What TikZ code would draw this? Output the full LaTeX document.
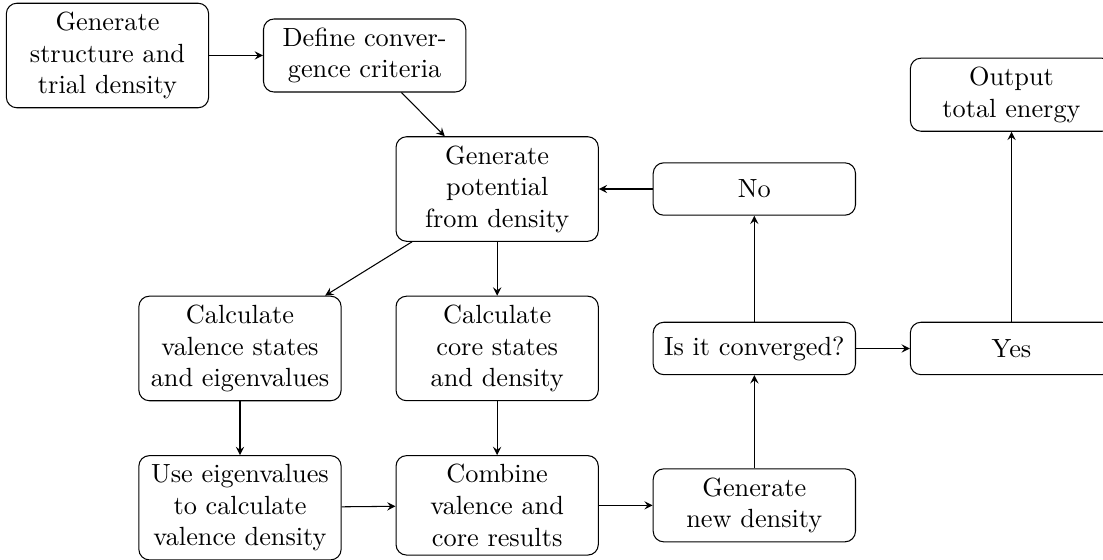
\documentclass[tikz,border=0pt]{standalone}
\usepackage{amsmath}
\usetikzlibrary{shapes,arrows,positioning}

\begin{document}
\begin{tikzpicture}[
    node distance=0.72cm,
    auto,
    block/.style={rectangle, rounded corners, draw=black, text width=2.47cm, text centered, minimum height=0.7cm},
    arrow/.style={->, >=stealth}
]
\useasboundingbox (-1.437,0.742) rectangle (13.31,-6.745);
% Blocks
\node[block] (gen) {Generate\\structure and\\trial density};
\node[block, right=of gen] (crit) {Define conver-\\gence criteria};
\node[block] (pot) at (5.21,-1.785) {Generate\\potential\\from density};
\node[block, right=of pot] (no) {No};
\node[block, below=of pot] (core) {Calculate\\core states\\and density};
\node[block, left=of core] (val) {Calculate\\valence states\\and eigenvalues};
\node[block, below=of core] (comb) {Combine\\valence and\\core results};
\node[block, below=of val] (use) {Use eigenvalues\\to calculate\\valence density};
\node[block, right=of comb] (new) {Generate\\new density};
\node[block, right=of core] (conv) {Is it converged?};
\node[block, right=of conv] (yes) {Yes};
\node[block, above=2.54cm of yes] (out) {Output\\total energy};

% Arrows
\draw[arrow] (gen) -- (crit);
\draw[arrow] (crit) -- (pot);
\draw[arrow] (pot) -- (val);
\draw[arrow] (pot) -- (core);
\draw[arrow] (val) -- (use);
\draw[arrow] (core) -- (comb);
\draw[arrow] (use) -- (comb);
\draw[arrow] (comb) -- (new);
\draw[arrow] (new) -- (conv);
\draw[arrow] (conv) -- (no);
\draw[arrow] (no) -- (pot);
\draw[arrow] (conv) -- (yes);
\draw[arrow] (yes) -- (out);
\end{tikzpicture}
\end{document}
